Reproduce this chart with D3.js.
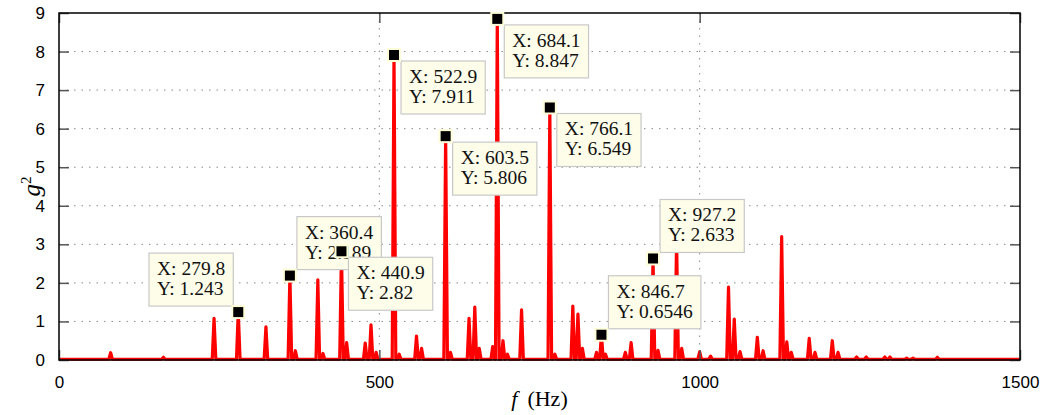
<!DOCTYPE html>
<html>
<head>
<meta charset="utf-8">
<script src="https://cdn.jsdelivr.net/npm/d3@7/dist/d3.min.js"></script>
<style>
  html, body { margin: 0; padding: 0; background: #fff; }
  svg { display: block; }
</style>
</head>
<body>
<svg id="chart" width="1045" height="415"></svg>
<script>
// ---- data ----
const peakFreq = [80.6, 163, 242, 279.8, 323, 360.4, 369, 404, 412, 440.9, 449, 478, 487, 495,
  522.9, 531, 558, 566, 603.5, 611, 640, 649, 656, 677, 684.1, 693, 700, 722, 766.1, 774,
  802, 810, 817, 839, 846.7, 853, 884, 893, 927.2, 935, 964, 972, 1000, 1017, 1045, 1054,
  1063, 1090, 1099, 1128, 1136, 1143, 1171, 1180, 1207, 1216, 1245, 1260, 1289, 1297,
  1323, 1333, 1371];
const peakAmp = [0.19, 0.07, 1.08, 1.243, 0.86, 2.189, 0.24, 2.08, 0.17, 2.82, 0.45, 0.44, 0.91, 0.2,
  7.911, 0.15, 0.62, 0.3, 5.806, 0.2, 1.08, 1.37, 0.3, 0.35, 8.847, 0.5, 0.15, 1.3, 6.549, 0.15,
  1.40, 1.19, 0.3, 0.2, 0.6546, 0.15, 0.2, 0.45, 2.633, 0.25, 3.1, 0.3, 0.21, 0.1, 1.89, 1.06,
  0.22, 0.59, 0.24, 3.2, 0.47, 0.2, 0.56, 0.2, 0.5, 0.2, 0.08, 0.08, 0.08, 0.08,
  0.05, 0.05, 0.07];
const baseLevel = 0.02;

const tipX = [279.8, 360.4, 440.9, 522.9, 603.5, 684.1, 766.1, 846.7, 927.2];
const tipY = [1.243, 2.189, 2.82, 7.911, 5.806, 8.847, 6.549, 0.6546, 2.633];
const tipYLabel = ["1.243", "2.189", "2.82", "7.911", "5.806", "8.847", "6.549", "0.6546", "2.633"];
const tipPlace = ["al", "ar", "br", "br", "br", "br", "br", "ar", "ar"];

const xTicks = [0, 500, 1000, 1500];
const yTicks = [0, 1, 2, 3, 4, 5, 6, 7, 8, 9];

// ---- layout ----
const L = 59, R = 1020, T = 13, B = 360;
const svg = d3.select("#chart");
const x = d3.scaleLinear().domain([0, 1500]).range([L, R]);
const y = d3.scaleLinear().domain([0, 9]).range([B, T]);

// grid
const grid = svg.append("g");
grid.selectAll("line.h").data(yTicks.filter(v => v > 0 && v < 9)).join("line")
  .attr("x1", L).attr("x2", R).attr("y1", d => y(d)).attr("y2", d => y(d))
  .attr("stroke", "#8a8a8a").attr("stroke-width", 1).attr("stroke-dasharray", "1.5,6");
grid.selectAll("line.v").data(xTicks.filter(v => v > 0 && v < 1500)).join("line")
  .attr("y1", T).attr("y2", B).attr("x1", d => x(d)).attr("x2", d => x(d))
  .attr("stroke", "#8a8a8a").attr("stroke-width", 1).attr("stroke-dasharray", "1.5,6");

// spectrum line
const pts = [[0, baseLevel]];
peakFreq.forEach((f, i) => {
  pts.push([f - 2.8, baseLevel]);
  pts.push([f, peakAmp[i]]);
  pts.push([f + 2.8, baseLevel]);
});
pts.push([1500, baseLevel]);
const line = d3.line().x(d => x(d[0])).y(d => y(d[1]));
svg.append("path").attr("d", line(pts))
  .attr("fill", "none").attr("stroke", "#ff0000").attr("stroke-width", 3.2)
  .attr("stroke-linejoin", "round");

// axes with inner ticks
const axL = d3.axisLeft(y).tickValues(yTicks).tickSize(-10).tickPadding(14).tickFormat(d3.format("d"));
const axR = d3.axisRight(y).tickValues(yTicks).tickSize(-10).tickFormat("");
const axB = d3.axisBottom(x).tickValues(xTicks).tickSize(-10).tickPadding(16).tickFormat(d3.format("d"));
const axT = d3.axisTop(x).tickValues(xTicks).tickSize(-10).tickFormat("");
function styleAxis(g) {
  g.select(".domain").remove();
  g.selectAll(".tick line").attr("stroke", "#555").attr("stroke-width", 1.5);
  g.selectAll(".tick text").attr("fill", "#000")
    .style("font-family", "'Liberation Sans', Arial, sans-serif").style("font-size", "17px");
}
svg.append("g").attr("transform", `translate(${L},0)`).call(axL).call(styleAxis);
svg.append("g").attr("transform", `translate(${R},0)`).call(axR).call(styleAxis);
svg.append("g").attr("transform", `translate(0,${B})`).call(axB).call(styleAxis);
svg.append("g").attr("transform", `translate(0,${T})`).call(axT).call(styleAxis);

// frame
svg.append("rect").attr("x", L).attr("y", T).attr("width", R - L).attr("height", B - T)
  .attr("fill", "none").attr("stroke", "#000").attr("stroke-width", 1.5);

// axis labels
svg.append("text").attr("transform", `translate(40,${(T + B) / 2}) rotate(-90)`)
  .attr("text-anchor", "middle")
  .style("font-family", "'Liberation Serif', 'DejaVu Serif', serif").style("font-size", "25px")
  .html('<tspan font-style="italic">g</tspan><tspan dy="-9" font-size="15px">2</tspan>');
svg.append("text").attr("x", (L + R) / 2).attr("y", 406)
  .attr("text-anchor", "middle")
  .style("font-family", "'Liberation Serif', 'DejaVu Serif', serif").style("font-size", "22px")
  .html('<tspan font-style="italic">f</tspan><tspan dx="10">(Hz)</tspan>');

// data tips
const tipG = svg.append("g");
tipX.forEach((tx, i) => {
  const mx = x(tx), my = y(tipY[i]);
  const g = tipG.append("g");
  const rect = g.append("rect").attr("fill", "#fdfdea").attr("stroke", "#c8c8c8").attr("stroke-width", 1.2);
  const txt = g.append("text")
    .style("font-family", "'Liberation Serif', 'Times New Roman', serif").style("font-size", "19.5px")
    .attr("fill", "#111");
  txt.append("tspan").attr("x", 0).attr("y", 0).text("X: " + tx);
  txt.append("tspan").attr("x", 0).attr("y", 20).text("Y: " + tipYLabel[i]);
  const bb = txt.node().getBBox();
  const w = bb.width + 16, h = 53;
  const p = tipPlace[i];
  const bx = p[1] === "r" ? mx + 7 : mx - 5 - w;
  const by = p[0] === "b" ? my + 6 : my - 6 - h;
  rect.attr("x", bx).attr("y", by).attr("width", w).attr("height", h);
  txt.attr("transform", `translate(${bx + 8},${by + 22})`);
  // marker
  g.append("rect").attr("x", mx - 7).attr("y", my - 7).attr("width", 14).attr("height", 14)
    .attr("fill", "#fdfdd8");
  g.append("rect").attr("x", mx - 5).attr("y", my - 5).attr("width", 10).attr("height", 10)
    .attr("fill", "#000");
});
</script>
</body>
</html>
